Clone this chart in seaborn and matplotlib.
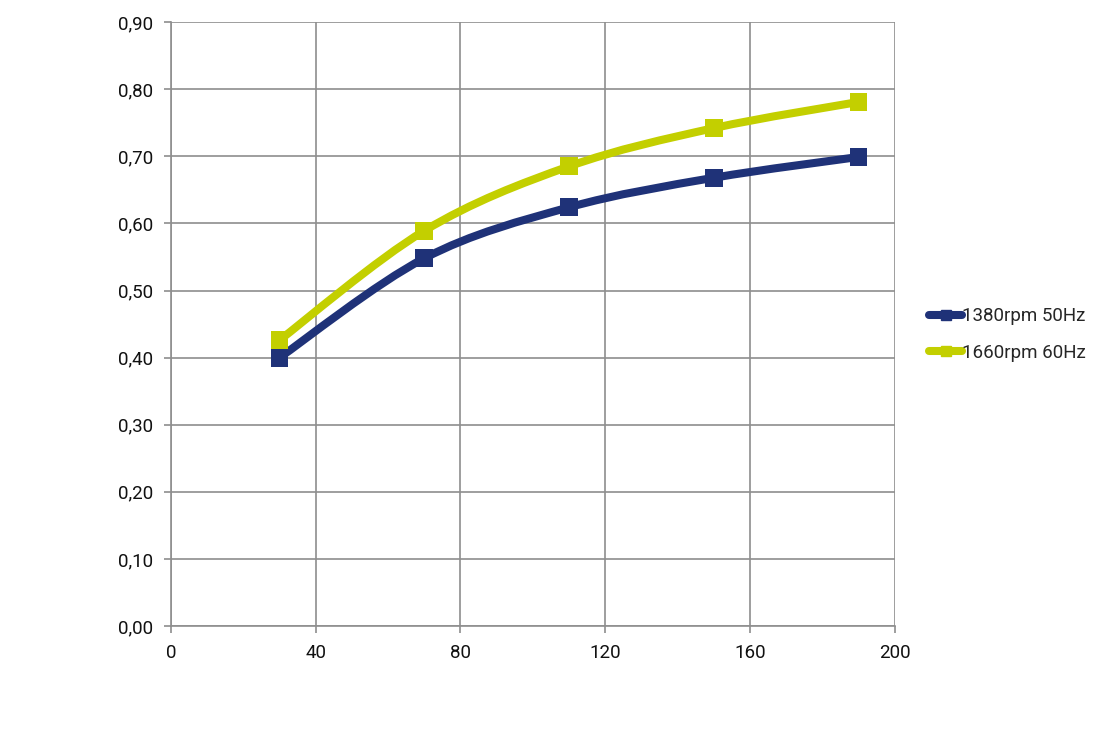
import numpy as np
import pandas as pd
import matplotlib
matplotlib.use("Agg")
import matplotlib.pyplot as plt
from matplotlib.path import Path
from matplotlib.patches import PathPatch
from matplotlib.lines import Line2D
import seaborn as sns

# data
flow = [30, 70, 110, 150, 190]
speed_50hz = [0.40, 0.548, 0.624, 0.668, 0.699]
speed_60hz = [0.426, 0.589, 0.685, 0.742, 0.781]
series_names = ["1380rpm 50Hz", "1660rpm 60Hz"]
colors = ["#1F3278", "#C3CF00"]

x_ticks = [0, 40, 80, 120, 160, 200]
y_ticks = np.arange(0, 0.91, 0.1)

df = pd.DataFrame({
    "x": flow * 2,
    "y": speed_50hz + speed_60hz,
    "serie": [series_names[0]] * len(flow) + [series_names[1]] * len(flow),
})

sns.set_theme(style="white")
plt.rcParams["font.family"] = ["Roboto", "DejaVu Sans"]

fig = plt.figure(figsize=(11.1, 7.37), dpi=100)
ax = fig.add_axes([0.154, 0.1506, 0.652, 0.8194])


def smooth_path(xs, ys, t=1 / 6):
    # Catmull-Rom style cubic bezier, like spreadsheet "smoothed line"
    pts = np.column_stack([xs, ys]).astype(float)
    verts = [pts[0]]
    codes = [Path.MOVETO]
    n = len(pts)
    for i in range(n - 1):
        p0 = pts[i - 1] if i > 0 else pts[i]
        p1 = pts[i]
        p2 = pts[i + 1]
        p3 = pts[i + 2] if i + 2 < n else pts[i + 1]
        c1 = p1 + (p2 - p0) * t
        c2 = p2 - (p3 - p1) * t
        verts += [c1, c2, p2]
        codes += [Path.CURVE4] * 3
    return Path(verts, codes)


for name, col in zip(series_names, colors):
    sub = df[df["serie"] == name]
    ax.add_patch(PathPatch(smooth_path(sub["x"].values, sub["y"].values),
                           facecolor="none", edgecolor=col, lw=5.8,
                           capstyle="round", zorder=3))

sns.scatterplot(data=df, x="x", y="y", hue="serie", palette=colors,
                marker="s", s=165, linewidth=0, ax=ax, zorder=4, legend=False)

ax.set_xlim(0, 200)
ax.set_ylim(0, 0.9)
ax.set_xticks(x_ticks)
ax.set_yticks(y_ticks)
ax.set_xticklabels([str(v) for v in x_ticks])
ax.set_yticklabels([f"{v:.2f}".replace(".", ",") for v in y_ticks])
ax.set_xlabel("")
ax.set_ylabel("")
ax.grid(True, color="#8E8E8E", lw=1.2)
ax.set_axisbelow(True)
for s in ["top", "right"]:
    ax.spines[s].set_visible(False)
for s in ["left", "bottom"]:
    ax.spines[s].set_color("#8E8E8E")
    ax.spines[s].set_linewidth(1.2)
ax.tick_params(axis="both", length=5, width=1.2, color="#8E8E8E",
               labelsize=13.5, labelcolor="#111111")
ax.tick_params(axis="x", bottom=True, pad=8)
ax.tick_params(axis="y", left=True, pad=8)

handles = [Line2D([0], [0], color=c, lw=5.8, marker="s", markersize=7,
                  solid_capstyle="round") for c in colors]
fig.legend(handles, series_names, loc="center left",
           bbox_to_anchor=(0.822, 0.546), frameon=False, fontsize=13.5,
           handlelength=1.75, handletextpad=0.0, labelspacing=1.0)

fig.savefig("out.png", dpi=100)
